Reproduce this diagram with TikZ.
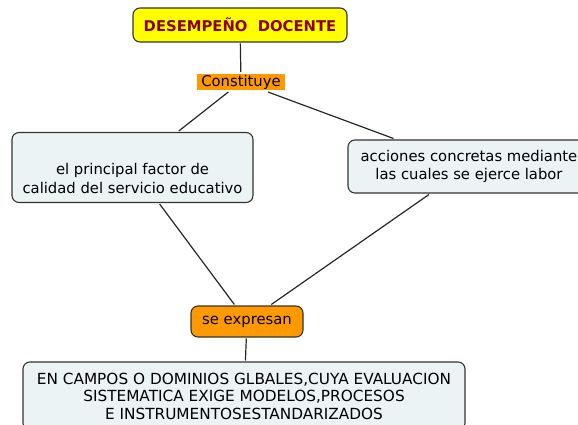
\documentclass[tikz,border=0pt]{standalone}
\usepackage{fontspec}
\setmainfont{DejaVu Sans}
\usepackage{xcolor}
\definecolor{amarillo}{HTML}{FFFF00}
\definecolor{naranja}{HTML}{FF9900}
\definecolor{celeste}{HTML}{EBF3F5}
\definecolor{granate}{HTML}{8B0000}

\begin{document}
\begin{tikzpicture}[x=1pt,y=-1pt,
 caja/.style={draw=black!80,line width=1.1pt,rounded corners=7pt,fill=celeste,align=center,outer sep=1.5pt,
  font=\fontsize{14.8}{18.5}\selectfont},
 enlace/.style={draw=black!85,line width=1.2pt}]
 \useasboundingbox (0,0) rectangle (578,425);
 \node[caja,fill=amarillo,text=granate,minimum width=214pt,minimum height=34pt,
  font=\bfseries\fontsize{14.8}{17}\selectfont] (desempeno) at (240,25) {DESEMPEÑO\ \ DOCENTE};
 \node[fill=naranja,minimum width=88pt,minimum height=16pt,inner sep=0pt,outer sep=2pt,
  font=\fontsize{14.8}{17}\selectfont] (constituye) at (241,82) {Constituye};
 \node[caja,minimum width=241pt,minimum height=70pt] (principal) at (132.5,167.5)
  {\rule{0pt}{33pt}el principal factor de\\calidad del servicio educativo};
 \node[caja,minimum width=242pt,minimum height=53pt] (acciones) at (469,166.5)
  {acciones concretas mediante\\las cuales se ejerce labor};
 \node[caja,fill=naranja,minimum width=112pt,minimum height=31pt] (expresan) at (247,321.5) {se expresan};
 \node[caja,minimum width=442pt,minimum height=68pt,font=\fontsize{15.3}{17.5}\selectfont] (campos) at (244,396)
  {EN CAMPOS O DOMINIOS GLBALES,CUYA EVALUACION\\SISTEMATICA EXIGE MODELOS,PROCESOS\\E INSTRUMENTOSESTANDARIZADOS};
 \draw[enlace] (desempeno) -- (constituye);
 \draw[enlace] (constituye) -- (principal);
 \draw[enlace] (constituye) -- (acciones);
 \draw[enlace] (principal) -- (expresan);
 \draw[enlace] (acciones) -- (expresan);
 \draw[enlace] (expresan) -- (campos);
\end{tikzpicture}
\end{document}
